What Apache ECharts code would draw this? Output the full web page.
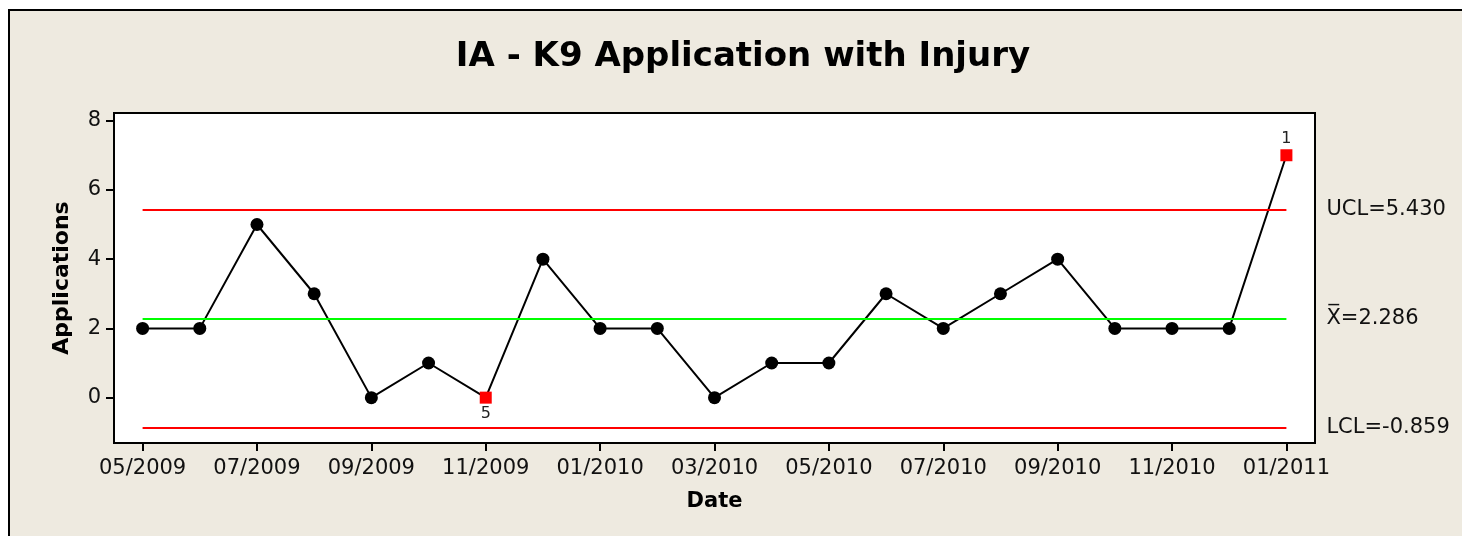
<!DOCTYPE html>
<html>
<head>
<meta charset="utf-8">
<title>IA - K9 Application with Injury</title>
<script src="https://cdn.jsdelivr.net/npm/echarts@6/dist/echarts.min.js"></script>
<style>
  html, body { margin: 0; padding: 0; width: 100%; height: 100%; background: #fff; overflow: hidden; }
  #main { width: 1462px; height: 536px; }
</style>
</head>
<body>
<div id="main"></div>
<script>
var months = ['05/2009','06/2009','07/2009','08/2009','09/2009','10/2009','11/2009','12/2009',
  '01/2010','02/2010','03/2010','04/2010','05/2010','06/2010','07/2010','08/2010','09/2010',
  '10/2010','11/2010','12/2010','01/2011'];
var applications = [2, 2, 5, 3, 0, 1, 0, 4, 2, 2, 0, 1, 1, 3, 2, 3, 4, 2, 2, 2, 7];
// out-of-control points: index -> test number
var flagged = { 6: '5', 20: '1' };
var ucl = 5.430, mean = 2.286, lcl = -0.859;
var yTicks = [0, 2, 4, 6, 8];

var font = 'DejaVu Sans';
var seriesData = applications.map(function (v, i) {
  if (flagged[i] === undefined) return v;
  return {
    value: v,
    symbol: 'rect',
    symbolSize: 12,
    itemStyle: { color: '#ff0000' },
    label: {
      show: true,
      formatter: flagged[i],
      position: i === 20 ? 'top' : 'bottom',
      distance: 2,
      color: '#222',
      fontSize: 16,
      fontFamily: font
    }
  };
});

function limitLine(y, color, text) {
  return [
    { coord: [0, y], lineStyle: { color: color, width: 2, type: 'solid' },
      label: { show: true, position: 'end', formatter: text, distance: 40,
        color: '#111', fontSize: 21, fontFamily: font } },
    { coord: [applications.length - 1, y] }
  ];
}

var chart = echarts.init(document.getElementById('main'));
chart.setOption({
  backgroundColor: '#ffffff',
  animation: false,
  graphic: [{
    type: 'rect', z: -10, silent: true,
    shape: { x: 9, y: 10, width: 1500, height: 600 },
    style: { fill: '#eeeae0', stroke: '#000', lineWidth: 2 }
  }],
  title: {
    text: 'IA - K9 Application with Injury',
    left: 738,
    textAlign: 'center',
    top: 35,
    textStyle: { fontFamily: font, fontWeight: 'bold', fontSize: 34, color: '#000' }
  },
  grid: {
    left: 114, top: 113, width: 1201, height: 330,
    show: true, backgroundColor: '#ffffff', borderColor: '#000', borderWidth: 2
  },
  xAxis: {
    type: 'category',
    data: months,
    boundaryGap: true,
    name: 'Date',
    nameLocation: 'middle',
    nameGap: 48,
    nameTextStyle: { fontFamily: font, fontWeight: 'bold', fontSize: 21, color: '#000' },
    axisLine: { onZero: false, lineStyle: { color: '#000', width: 2 } },
    axisTick: { show: true, alignWithLabel: true, interval: 1, length: 8, lineStyle: { color: '#000', width: 2 } },
    axisLabel: { interval: 1, margin: 15, fontFamily: font, fontSize: 21, color: '#111' },
    splitLine: { show: false }
  },
  yAxis: {
    type: 'value',
    min: -1.31,
    max: 8.22,
    name: 'Applications',
    nameLocation: 'middle',
    nameGap: 41,
    nameTextStyle: { fontFamily: font, fontWeight: 'bold', fontSize: 22, color: '#000' },
    axisLine: { show: true, onZero: false, lineStyle: { color: '#000', width: 2 } },
    axisTick: { show: true, customValues: yTicks, length: 8, lineStyle: { color: '#000', width: 2 } },
    axisLabel: { customValues: yTicks, margin: 13, fontFamily: font, fontSize: 21, color: '#111' },
    splitLine: { show: false }
  },
  series: [{
    type: 'line',
    data: seriesData,
    symbol: 'circle',
    symbolSize: 13,
    itemStyle: { color: '#000' },
    lineStyle: { color: '#000', width: 2 },
    markLine: {
      silent: true,
      symbol: ['none', 'none'],
      data: [
        limitLine(ucl, '#ff0000', 'UCL=5.430'),
        limitLine(mean, '#00ff00', 'X\u0305=2.286'),
        limitLine(lcl, '#ff0000', 'LCL=-0.859')
      ]
    }
  }]
});
</script>
</body>
</html>
